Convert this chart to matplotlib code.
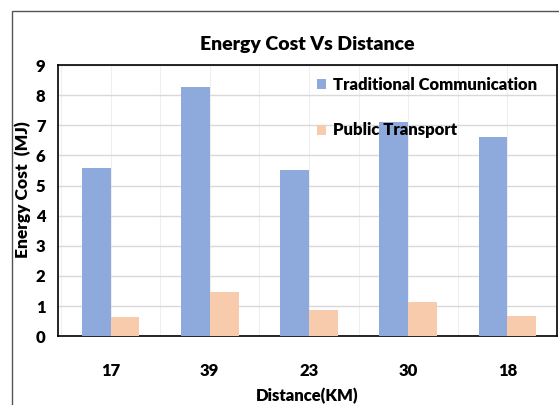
import numpy as np
import matplotlib.pyplot as plt
from matplotlib.patches import Rectangle

distances = ["17", "39", "23", "30", "18"]
traditional = [5.58, 8.28, 5.50, 7.10, 6.60]
public = [0.65, 1.47, 0.88, 1.13, 0.68]

plt.rcParams['font.family'] = ['Lato', 'DejaVu Sans']
wt = "heavy"

fig = plt.figure(figsize=(5.59, 4.05), dpi=100)
ax = fig.add_axes([0.1038, 0.170, 0.8926, 0.6695])

# outer frame of the chart object
fig.patches.append(Rectangle((12 / 559, -0.1), 1.2, 1 - 11 / 405 + 0.1,
                             transform=fig.transFigure, fill=False,
                             edgecolor="#555555", linewidth=1.0))

x = np.arange(len(distances))
w = 0.29
ax.bar(x - w / 2, traditional, w, color="#8EA9DB", label="Traditional Communication", zorder=3)
ax.bar(x + w / 2, public, w, color="#F8CBAD", label="Public Transport", zorder=3)

ax.set_xlim(-0.53, 4.47)
ax.set_ylim(0, 9)
ax.set_yticks(range(0, 10))
ax.set_xticks(x)
ax.set_xticks(np.arange(-0.5, 4.6, 0.5), minor=True)
ax.set_xticklabels(distances, fontsize=12, fontweight=wt)
ax.set_yticklabels([str(i) for i in range(10)], fontsize=12, fontweight=wt)
ax.tick_params(axis="both", which="both", length=0)
ax.tick_params(axis="x", pad=19)
ax.tick_params(axis="y", pad=9)
ax.grid(axis="y", color="#D9D9D9", linewidth=1.0, zorder=0)
ax.grid(axis="x", which="both", color="#EFEFEF", linewidth=0.8, zorder=0)
for s in ax.spines.values():
    s.set_color("black")
    s.set_linewidth(1.2)

ax.set_title("Energy Cost Vs Distance", fontsize=14, fontweight=wt, pad=11)
ax.set_xlabel("Distance(KM)", fontsize=12, fontweight=wt, labelpad=7)
ax.set_ylabel("Energy Cost  (MJ)", fontsize=12.5, fontweight=wt)
ax.yaxis.set_label_coords(-0.054, 0.54)

ax.legend(loc="upper right", bbox_to_anchor=(0.99, 1.01), frameon=False,
          prop={"weight": wt, "size": 12}, handlelength=0.55, handleheight=0.55,
          handletextpad=0.4, labelspacing=1.75)

fig.savefig("out.png", dpi=100)
